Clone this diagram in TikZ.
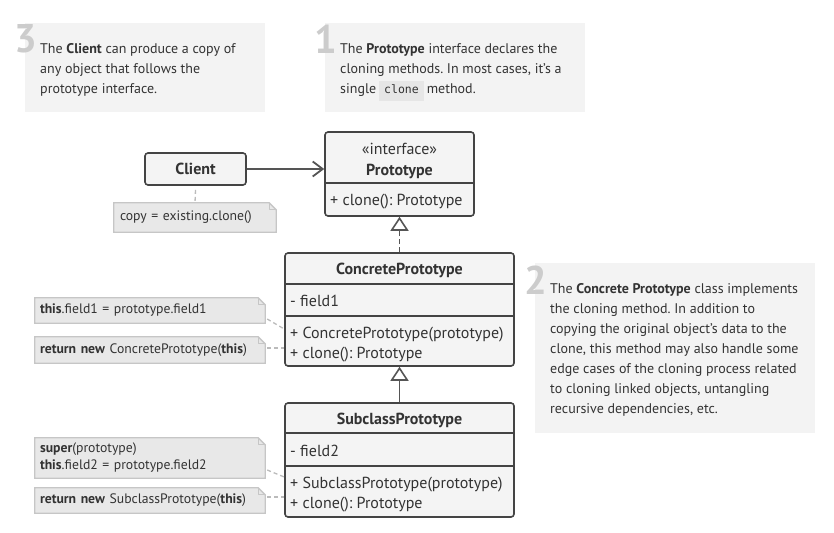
\documentclass[tikz,border=0pt]{standalone}
\usepackage{fontspec}
\setmainfont{PT Sans}
\newfontfamily\codefont{DejaVu Sans Mono}
\usetikzlibrary{arrows.meta,backgrounds}
\frenchspacing
\definecolor{txt}{HTML}{333333}
\definecolor{infobg}{HTML}{F3F3F3}
\definecolor{numcol}{HTML}{CCCCCC}
\definecolor{clsbg}{HTML}{F4F4F4}
\definecolor{clsborder}{HTML}{444444}
\definecolor{notebg}{HTML}{E8E8E8}
\definecolor{noteborder}{HTML}{C6C6C6}
\definecolor{codebg}{HTML}{E6E6E6}
\definecolor{linkcol}{HTML}{555555}
\definecolor{dashcol}{HTML}{BBBBBB}
\newcommand\codebox[1]{{\setlength\fboxsep{0pt}\colorbox{codebg}{\rule[-8pt]{0pt}{20pt}\hspace{5pt}{\codefont\fontsize{11.5}{11.5}\selectfont #1}\hspace{5pt}}}}
\newcommand\drawnote[1]{%
  \draw[noteshape] (#1.north west) -- ([xshift=-7pt]#1.north east) -- ([yshift=-7pt]#1.north east) -- (#1.south east) -- (#1.south west) -- cycle;
  \draw[notefold] ([xshift=-7pt]#1.north east) -- ([xshift=-7pt,yshift=-7pt]#1.north east) -- ([yshift=-7pt]#1.north east);}
\begin{document}
\begin{tikzpicture}[x=1pt,y=-1pt,
  infobox/.style={fill=infobg,draw=none,inner sep=0pt},
  numstyle/.style={font=\fontsize{40}{40}\selectfont\bfseries,text=numcol,inner sep=0pt},
  infotext/.style={font=\fontsize{14}{20}\selectfont,text=txt,inner sep=0pt,anchor=north west,align=left},
  cls/.style={draw=clsborder,line width=1.6pt,fill=clsbg,rounded corners=3pt,inner sep=0pt},
  clstext/.style={font=\fontsize{16}{18}\selectfont,text=txt,inner sep=0pt,text height=11pt,text depth=3pt,yshift=-1pt},
  clsbold/.style={clstext,font=\fontsize{16}{18}\selectfont\bfseries},
  divider/.style={draw=clsborder,line width=1.6pt},
  note/.style={inner ysep=0pt,inner xsep=5pt,text width=220pt,align=left,font=\fontsize{13.7}{17}\selectfont,text=txt},
  noteshape/.style={fill=notebg,draw=noteborder,line width=1.3pt},
  notefold/.style={draw=noteborder,line width=1.1pt,line join=round},
  assoc/.style={draw=linkcol,line width=1.8pt,-{Straight Barb[length=10pt,width=15pt,line width=1.8pt]}},
  real/.style={draw=linkcol,line width=1.8pt,dash pattern=on 5pt off 3pt,-{Triangle[open,length=14pt,width=18pt,line width=1.6pt,fill=white]}},
  inh/.style={draw=linkcol,line width=1.8pt,-{Triangle[open,length=14pt,width=18pt,line width=1.6pt,fill=white]}},
  notelink/.style={draw=dashcol,line width=1.3pt,dash pattern=on 4pt off 3pt}
]
\useasboundingbox (0,0) rectangle (834,532);

% info boxes
\node[infobox,minimum width=240pt,minimum height=89pt] (info3) at (145,67.5) {};
\node[numstyle] (num3) at (26,39) {3};
\node[infotext] (text3) at (40,43) {The \textbf{Client} can produce a copy of\\any object that follows the\\prototype interface.};

\node[infobox,minimum width=260pt,minimum height=89pt] (info1) at (455,67.5) {};
\node[numstyle] (num1) at (326,39) {1};
\node[infotext] (text1) at (340,43) {The \textbf{Prototype} interface declares the\\cloning methods. In most cases, it's a\\single\hspace{3pt}\codebox{clone}\hspace{3pt}method.};

\node[infobox,minimum width=280pt,minimum height=170pt] (info2) at (675,348) {};
\node[numstyle] (num2) at (536,280) {2};
\node[infotext] (text2) at (550,283) {The \textbf{Concrete Prototype} class implements\\the cloning method. In addition to\\copying the original object's data to the\\clone, this method may also handle some\\edge cases of the cloning process related\\to cloning linked objects, untangling\\recursive dependencies, etc.};

% classes
\node[cls,minimum width=101pt,minimum height=32pt,font=\fontsize{16}{18}\selectfont\bfseries,text=txt] (client) at (195.5,169) {Client};

\node[cls,minimum width=149pt,minimum height=84pt] (proto) at (399.5,174) {};
\draw[divider] ([yshift=-52pt]proto.north west) -- ([yshift=-52pt]proto.north east);
\node[clstext] (protoI) at (399.5,149) {«interface»};
\node[clsbold] (protoN) at (399.5,170) {Prototype};
\node[clstext,anchor=west] (protoM) at (330,200) {+ clone(): Prototype};

\node[cls,minimum width=229pt,minimum height=113pt] (concrete) at (399.5,309.5) {};
\draw[divider] ([yshift=-32pt]concrete.north west) -- ([yshift=-32pt]concrete.north east);
\draw[divider] ([yshift=-64pt]concrete.north west) -- ([yshift=-64pt]concrete.north east);
\node[clsbold] (concN) at (399.5,269) {ConcretePrototype};
\node[clstext,anchor=west] (concF) at (290,301) {- field1};
\node[clstext,anchor=west] (concM1) at (290,333) {+ ConcretePrototype(prototype)};
\node[clstext,anchor=west] (concM2) at (290,353) {+ clone(): Prototype};

\node[cls,minimum width=229pt,minimum height=114pt] (sub) at (399.5,460) {};
\draw[divider] ([yshift=-31pt]sub.north west) -- ([yshift=-31pt]sub.north east);
\draw[divider] ([yshift=-64pt]sub.north west) -- ([yshift=-64pt]sub.north east);
\node[clsbold] (subN) at (399.5,419) {SubclassPrototype};
\node[clstext,anchor=west] (subF) at (290,451) {- field2};
\node[clstext,anchor=west] (subM1) at (290,483) {+ SubclassPrototype(prototype)};
\node[clstext,anchor=west] (subM2) at (290,503) {+ clone(): Prototype};

% notes
\node[note,inner xsep=6pt,text width=150pt,minimum height=29pt] (cnote) at (195,217.5) {copy = existing.clone()};
\node[note,minimum height=25pt] (noteA) at (150,310.5) {\textbf{this}.field1 = prototype.field1};
\node[note,minimum height=26pt] (noteB) at (150,350) {\textbf{return new} ConcretePrototype(\textbf{this})};
\node[note,minimum height=40pt] (noteC) at (150,458) {\textbf{super}(prototype)\\\textbf{this}.field2 = prototype.field2};
\node[note,minimum height=25pt] (noteD) at (150,500.5) {\textbf{return new} SubclassPrototype(\textbf{this})};

\begin{scope}[on background layer]
\drawnote{cnote}
\drawnote{noteA}
\drawnote{noteB}
\drawnote{noteC}
\drawnote{noteD}
\end{scope}

% connectors
\draw[assoc] (client.east) -- (client.east -| proto.west);
\draw[real] (concrete.north) -- (proto.south);
\draw[inh] (sub.north) -- (concrete.south);
\draw[notelink] ([yshift=-4pt]client.south) -- (cnote.north);
\draw[notelink] ([xshift=2pt,yshift=-8.5pt]noteA.east) -- ([yshift=-19.5pt]concrete.west);
\draw[notelink] ([xshift=2pt,yshift=2pt]noteB.east) -- ([yshift=2pt]noteB.east -| concrete.west);
\draw[notelink] ([xshift=2pt,yshift=-12pt]noteC.east) -- ([yshift=-17pt]sub.west);
\draw[notelink] ([xshift=2pt,yshift=3.5pt]noteD.east) -- ([yshift=3.5pt]noteD.east -| sub.west);
\end{tikzpicture}
\end{document}
